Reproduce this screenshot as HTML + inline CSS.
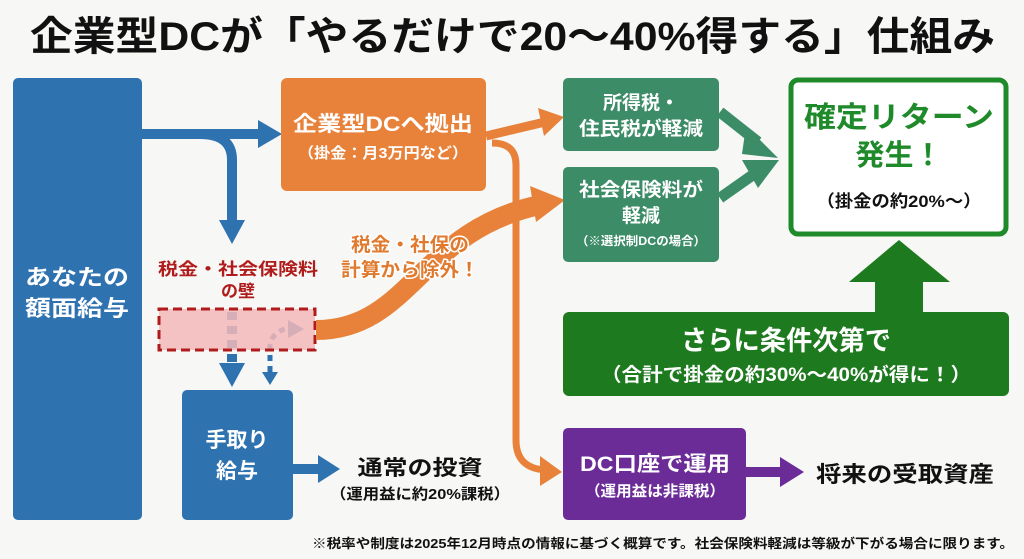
<!DOCTYPE html>
<html><head><meta charset="utf-8"><style>
html,body{margin:0;padding:0;background:#f7f7f5;}
svg{display:block}
text{font-family:"Liberation Sans","Noto Sans CJK JP",sans-serif;font-weight:bold;}
</style></head><body>
<svg width="1024" height="559" viewBox="0 0 1024 559" xmlns="http://www.w3.org/2000/svg">
<rect width="1024" height="559" fill="#f7f7f5"/>
<text x="30" y="50" font-size="40" fill="#111" textLength="965" lengthAdjust="spacingAndGlyphs">企業型DCが「やるだけで20〜40%得する」仕組み</text>

<!-- left blue -->
<rect x="13" y="78" width="129" height="442" rx="5" fill="#2f72b0"/>
<text x="77" y="285" font-size="22" fill="#fff" text-anchor="middle" textLength="104" lengthAdjust="spacingAndGlyphs">あなたの</text>
<text x="77" y="316" font-size="22" fill="#fff" text-anchor="middle" textLength="104" lengthAdjust="spacingAndGlyphs">額面給与</text>

<!-- blue arrows -->
<path d="M142 134 H262" stroke="#2f72b0" stroke-width="10" fill="none"/>
<polygon points="258,120 282,134 258,148" fill="#2f72b0"/>
<path d="M200 134 Q232 134 232 160 V222" stroke="#2f72b0" stroke-width="10" fill="none"/>
<polygon points="219,220 245,220 232,244" fill="#2f72b0"/>
<path d="M232 312 V368" stroke="#2f72b0" stroke-width="10" stroke-dasharray="8,6" fill="none"/>
<polygon points="219,363 245,363 232,387" fill="#2f72b0"/>
<path d="M270 372 V345 Q272 332 288 328" stroke="#2f72b0" stroke-width="5" stroke-dasharray="6,5" fill="none"/>
<polygon points="288,320 304,329 288,338" fill="#2f72b0"/>
<polygon points="262,372 278,372 270,385" fill="#2f72b0"/>

<!-- red wall -->
<text x="238" y="275" font-size="17" fill="#b01c1c" text-anchor="middle" textLength="160" lengthAdjust="spacingAndGlyphs">税金・社会保険料</text>
<text x="238" y="297" font-size="17" fill="#b01c1c" text-anchor="middle">の壁</text>
<rect x="159" y="309" width="156" height="41" fill="#f3b9b9" fill-opacity="0.85" stroke="#b01c1c" stroke-width="3" stroke-dasharray="9,5"/>

<!-- orange big curve -->
<path d="M316 330 C410 330 420 230 540 205" stroke="#e8823a" stroke-width="20" fill="none"/>
<polygon points="530,186 565,200 536,222" fill="#e8823a"/>
<g stroke="#fff" stroke-width="3" paint-order="stroke" stroke-linejoin="round">
<text x="410" y="251" font-size="19" fill="#e07a2e" text-anchor="middle" textLength="118" lengthAdjust="spacingAndGlyphs">税金・社保の</text>
<text x="410" y="276" font-size="19" fill="#e07a2e" text-anchor="middle" textLength="138" lengthAdjust="spacingAndGlyphs">計算から除外！</text>
</g>

<!-- orange box -->
<rect x="281" y="78" width="205" height="113" rx="6" fill="#e8823a"/>
<text x="383" y="131" font-size="21" fill="#fff" text-anchor="middle" textLength="180" lengthAdjust="spacingAndGlyphs">企業型DCへ拠出</text>
<text x="383" y="158" font-size="15" fill="#fff" text-anchor="middle" textLength="170" lengthAdjust="spacingAndGlyphs">（掛金：月3万円など）</text>

<!-- orange arrow to green1 -->
<path d="M486 136 L545 122" stroke="#e8823a" stroke-width="9" fill="none"/>
<polygon points="538,108 564,117 544,136" fill="#e8823a"/>
<!-- orange vertical -->
<path d="M492 143 Q516 143 516 165 V440 Q516 468 545 470" stroke="#e8823a" stroke-width="7" fill="none"/>
<polygon points="540,456 562,472 540,486" fill="#e8823a"/>

<!-- green boxes -->
<rect x="563" y="78" width="156" height="73" rx="5" fill="#3d8c68"/>
<text x="641" y="109" font-size="19" fill="#fff" text-anchor="middle">所得税・</text>
<text x="641" y="135" font-size="19" fill="#fff" text-anchor="middle" textLength="124" lengthAdjust="spacingAndGlyphs">住民税が軽減</text>
<rect x="563" y="167" width="156" height="95" rx="5" fill="#3d8c68"/>
<text x="641" y="196" font-size="19" fill="#fff" text-anchor="middle" textLength="124" lengthAdjust="spacingAndGlyphs">社会保険料が</text>
<text x="641" y="222" font-size="19" fill="#fff" text-anchor="middle">軽減</text>
<text x="641" y="245" font-size="12" fill="#fff" text-anchor="middle" textLength="130" lengthAdjust="spacingAndGlyphs">（※選択制DCの場合）</text>

<!-- green arrows -->
<path d="M720 112 L758 142" stroke="#3d8c68" stroke-width="11" fill="none"/>
<polygon points="746,126 778,158 742,154" fill="#3d8c68"/>
<path d="M720 198 L757 172" stroke="#3d8c68" stroke-width="11" fill="none"/>
<polygon points="742,160 779,160 758,188" fill="#3d8c68"/>

<!-- result box -->
<rect x="791" y="80" width="215" height="154" rx="7" fill="#fff" stroke="#1f8a2a" stroke-width="5"/>
<text x="899" y="127" font-size="29" fill="#1f8a2a" text-anchor="middle" textLength="190" lengthAdjust="spacingAndGlyphs">確定リターン</text>
<text x="899" y="165" font-size="29" fill="#1f8a2a" text-anchor="middle">発生！</text>
<text x="899" y="207" font-size="17" fill="#111" text-anchor="middle" textLength="165" lengthAdjust="spacingAndGlyphs">（掛金の約20%〜）</text>

<!-- up arrow -->
<rect x="875" y="275" width="48" height="45" fill="#1e7a1e"/>
<polygon points="849,282 899,240 950,282" fill="#1e7a1e"/>
<rect x="563" y="312" width="446" height="84" rx="6" fill="#1e7a1e"/>
<text x="786" y="350" font-size="27" fill="#fff" text-anchor="middle" textLength="210" lengthAdjust="spacingAndGlyphs">さらに条件次第で</text>
<text x="786" y="381" font-size="19" fill="#fff" text-anchor="middle" textLength="370" lengthAdjust="spacingAndGlyphs">（合計で掛金の約30%〜40%が得に！）</text>

<!-- take-home -->
<rect x="182" y="390" width="111" height="130" rx="5" fill="#2f72b0"/>
<text x="237" y="447" font-size="21" fill="#fff" text-anchor="middle">手取り</text>
<text x="237" y="478" font-size="21" fill="#fff" text-anchor="middle">給与</text>
<path d="M293 469 H322" stroke="#2f72b0" stroke-width="10" fill="none"/>
<polygon points="318,455 340,469 318,483" fill="#2f72b0"/>
<text x="420" y="475" font-size="21" fill="#111" text-anchor="middle" textLength="125" lengthAdjust="spacingAndGlyphs">通常の投資</text>
<text x="420" y="499" font-size="15" fill="#111" text-anchor="middle" textLength="180" lengthAdjust="spacingAndGlyphs">（運用益に約20%課税）</text>

<!-- purple -->
<rect x="563" y="428" width="183" height="92" rx="5" fill="#6b2c98"/>
<text x="655" y="471" font-size="21" fill="#fff" text-anchor="middle" textLength="150" lengthAdjust="spacingAndGlyphs">DC口座で運用</text>
<text x="655" y="496" font-size="15" fill="#fff" text-anchor="middle" textLength="140" lengthAdjust="spacingAndGlyphs">（運用益は非課税）</text>
<path d="M746 472 H785" stroke="#6b2c98" stroke-width="10" fill="none"/>
<polygon points="780,457 804,472 780,487" fill="#6b2c98"/>
<text x="905" y="482" font-size="22" fill="#111" text-anchor="middle" textLength="178" lengthAdjust="spacingAndGlyphs">将来の受取資産</text>

<text x="312" y="548" font-size="13" fill="#111" textLength="702" lengthAdjust="spacingAndGlyphs">※税率や制度は2025年12月時点の情報に基づく概算です。社会保険料軽減は等級が下がる場合に限ります。</text>
</svg>
</body></html>
